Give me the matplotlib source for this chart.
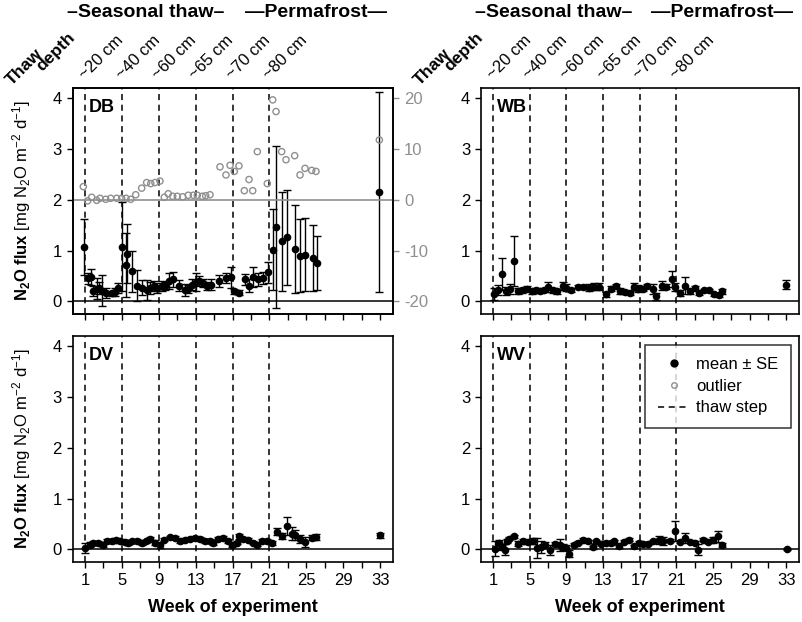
import matplotlib
matplotlib.use('Agg')
import matplotlib.pyplot as plt
from matplotlib.lines import Line2D

plt.rcParams['font.family'] = ['Liberation Sans', 'DejaVu Sans']
plt.rcParams['mathtext.fontset'] = 'custom'
plt.rcParams['mathtext.rm'] = 'Liberation Sans'
plt.rcParams['mathtext.bf'] = 'Liberation Sans:bold'
plt.rcParams['mathtext.it'] = 'Liberation Sans:italic'
plt.rcParams['axes.unicode_minus'] = False

# ---- data ----
thaw_weeks = [1, 5, 9, 13, 17, 21]
thaw_depths = ['~20 cm', '~40 cm', '~60 cm', '~65 cm', '~70 cm', '~80 cm']
week_labels = [1, 5, 9, 13, 17, 21, 25, 29, 33]

# DB
db_week = [0.92, 1.36, 1.62, 1.9, 2.27, 2.55, 2.88, 3.28, 3.9, 4.25, 4.6,
           5.05, 5.45, 5.59, 6.07, 6.6, 7.15, 7.76, 8.05, 8.48, 8.84, 9.32,
           9.68, 10.14, 10.51, 11.23, 11.85, 12.2, 12.57, 13.04, 13.4, 13.77,
           14.26, 14.7, 15.55, 16.29, 16.8, 17.16, 17.74, 18.35, 18.82, 19.25,
           19.8, 20.34, 20.8, 21.42, 21.72, 22.33, 22.88, 23.78, 24.32, 24.86,
           25.7, 26.13, 32.92]
db_mean = [1.07, 0.45, 0.48, 0.2, 0.25, 0.27, 0.21, 0.17, 0.16, 0.18, 0.27,
           1.08, 0.72, 0.94, 0.59, 0.31, 0.27, 0.22, 0.27, 0.30, 0.27, 0.30,
           0.30, 0.40, 0.43, 0.31, 0.22, 0.25, 0.33, 0.38, 0.40, 0.36,
           0.31, 0.33, 0.40, 0.46, 0.47, 0.2, 0.17, 0.43, 0.31, 0.48,
           0.43, 0.46, 0.57, 1.02, 1.46, 1.18, 1.26, 1.03, 0.9, 0.92,
           0.85, 0.76, 2.15]
db_se = [0.55, 0.1, 0.16, 0.1, 0.2, 0.12, 0.3, 0.1, 0.05, 0.08, 0.1,
         0.87, 0.63, 0.58, 0.4, 0.3, 0.15, 0.2, 0.12, 0.1, 0.1, 0.1,
         0.08, 0.15, 0.15, 0.1, 0.12, 0.08, 0.1, 0.18, 0.1, 0.08,
         0.08, 0.1, 0.12, 0.1, 0.2, 0.05, 0.05, 0.1, 0.12, 0.2,
         0.12, 0.12, 0.2, 0.8, 1.6, 0.97, 0.94, 0.86, 0.72, 0.72,
         0.65, 0.53, 1.97]
db_out_week = [0.82, 1.29, 1.73, 2.27, 2.63, 3.25, 3.79, 4.44, 4.98, 5.45, 5.96,
               6.5, 7.15, 7.69, 8.13, 8.59, 9.13, 9.6, 10.03, 10.51, 11.01, 11.6,
               12.2, 12.75, 13.18, 13.72, 14.09, 14.56, 15.64, 16.29, 16.73, 17.19,
               17.7, 18.28, 18.79, 19.19, 19.69, 20.77, 21.36, 21.72, 22.33, 22.8,
               23.74, 24.32, 24.86, 25.59, 26.05, 32.92]
db_out_val = [2.6, -0.2, 0.5, -0.1, 0.3, 0.1, 0.3, 0.3, 0.3, 0.3, 0.1,
              1.0, 2.3, 3.4, 3.2, 3.4, 3.7, 0.5, 1.2, 0.7, 0.7, 0.6,
              0.9, 0.9, 0.9, 0.7, 0.8, 1.0, 6.5, 4.9, 6.8, 5.6,
              6.7, 1.8, 4.0, 1.8, 9.5, 3.2, 19.7, 17.4, 9.5, 7.9,
              8.7, 4.9, 6.2, 5.8, 5.6, 11.8]

# WB
wb_week = [1.1, 1.5, 1.97, 2.4, 2.8, 3.23, 3.7, 4.2, 4.7, 5.2, 5.7, 6.1, 6.6,
           7.0, 7.5, 8.0, 8.62, 8.97, 9.51, 10.24, 10.77, 11.49, 12.02, 12.56,
           13.28, 13.82, 14.36, 14.83, 15.44, 15.98, 16.41, 16.77, 17.35, 17.84,
           18.42, 18.78, 19.39, 19.86, 20.47, 20.83, 21.37, 21.91, 22.44, 22.98,
           23.52, 24.06, 24.6, 25.14, 25.6, 26.03, 32.97]
wb_mean = [0.15, 0.22, 0.54, 0.2, 0.25, 0.79, 0.2, 0.22, 0.25, 0.2, 0.22, 0.2, 0.23,
           0.28, 0.22, 0.2, 0.3, 0.27, 0.22, 0.29, 0.29, 0.27, 0.29, 0.29,
           0.14, 0.25, 0.31, 0.2, 0.18, 0.16, 0.29, 0.25, 0.25, 0.31,
           0.25, 0.1, 0.31, 0.29, 0.44, 0.29, 0.17, 0.31, 0.2, 0.27,
           0.16, 0.22, 0.22, 0.14, 0.12, 0.2, 0.33]
wb_se = [0.12, 0.1, 0.31, 0.08, 0.1, 0.49, 0.06, 0.05, 0.05, 0.05, 0.05, 0.04, 0.04,
         0.1, 0.05, 0.05, 0.08, 0.07, 0.04, 0.03, 0.03, 0.07, 0.07, 0.07,
         0.05, 0.05, 0.04, 0.06, 0.04, 0.04, 0.07, 0.07, 0.05, 0.04,
         0.1, 0.07, 0.09, 0.05, 0.15, 0.08, 0.06, 0.17, 0.05, 0.04,
         0.04, 0.03, 0.03, 0.03, 0.03, 0.05, 0.08]

# DV
dv_week = [1.0, 1.5, 1.9, 2.4, 3.0, 3.35, 3.9, 4.35, 4.8, 5.35, 5.7, 6.15, 6.6,
           7.15, 7.6, 8.05, 8.6, 9.1, 9.55, 10.2, 10.75, 11.3, 11.85, 12.4,
           12.95, 13.45, 14.0, 14.55, 14.9, 15.45, 16.0, 16.55, 16.9, 17.45,
           17.75, 18.15, 18.7, 19.25, 19.7, 20.25, 20.7, 21.25, 21.8, 22.35,
           22.9, 23.4, 23.8, 24.3, 24.85, 25.6, 26.1, 33.0]
dv_mean = [0.02, 0.09, 0.13, 0.13, 0.09, 0.16, 0.17, 0.19, 0.17, 0.15, 0.13, 0.16, 0.17,
           0.13, 0.16, 0.21, 0.13, 0.08, 0.19, 0.24, 0.23, 0.16, 0.19, 0.21,
           0.23, 0.21, 0.17, 0.16, 0.13, 0.21, 0.23, 0.16, 0.08, 0.13,
           0.26, 0.21, 0.19, 0.13, 0.09, 0.17, 0.17, 0.13, 0.35, 0.26,
           0.46, 0.31, 0.28, 0.21, 0.15, 0.23, 0.24, 0.28]
dv_se = [0.1, 0.05, 0.04, 0.03, 0.05, 0.04, 0.04, 0.03, 0.04, 0.04, 0.05, 0.03, 0.03,
         0.04, 0.03, 0.03, 0.05, 0.05, 0.03, 0.03, 0.03, 0.04, 0.03, 0.03,
         0.03, 0.04, 0.04, 0.04, 0.04, 0.03, 0.03, 0.04, 0.04, 0.03,
         0.05, 0.03, 0.03, 0.03, 0.03, 0.04, 0.04, 0.04, 0.07, 0.06,
         0.18, 0.12, 0.1, 0.08, 0.1, 0.05, 0.06, 0.05]

# WV
wv_week = [1.18, 1.68, 1.97, 2.26, 2.51, 2.76, 3.23, 3.77, 4.31, 4.77, 5.39, 5.74,
           6.28, 6.71, 7.17, 7.71, 8.25, 8.62, 8.97, 9.33, 9.8, 10.23, 10.77,
           11.31, 11.85, 12.21, 12.75, 13.28, 13.82, 14.18, 14.72, 15.26, 15.8,
           16.33, 16.87, 17.41, 17.95, 18.49, 19.14, 19.57, 20.29, 20.83, 21.37,
           21.91, 22.44, 22.98, 23.34, 23.88, 24.42, 24.96, 25.5, 26.03, 33.04]
wv_mean = [0.01, 0.13, 0.04, -0.01, 0.17, 0.21, 0.26, 0.11, 0.16, 0.15, 0.16, 0.03,
           0.04, 0.08, -0.01, 0.11, 0.08, 0.04, 0.03, -0.09, 0.09, 0.13, 0.19,
           0.16, 0.04, 0.16, 0.11, 0.13, 0.12, 0.16, 0.06, 0.15, 0.19,
           0.06, 0.13, 0.11, 0.11, 0.16, 0.19, 0.17, 0.17, 0.36, 0.15,
           0.23, 0.15, 0.13, -0.01, 0.19, 0.15, 0.19, 0.26, 0.09, 0.01]
wv_se = [0.15, 0.05, 0.05, 0.11, 0.04, 0.03, 0.03, 0.05, 0.05, 0.04, 0.06, 0.2,
         0.12, 0.06, 0.1, 0.04, 0.12, 0.06, 0.05, 0.07, 0.03, 0.03, 0.03,
         0.03, 0.03, 0.03, 0.03, 0.03, 0.03, 0.03, 0.03, 0.03, 0.03,
         0.03, 0.03, 0.03, 0.03, 0.03, 0.08, 0.08, 0.03, 0.19, 0.03,
         0.1, 0.03, 0.03, 0.11, 0.03, 0.03, 0.06, 0.11, 0.04, 0.02]

panels = {
    'DB': (db_week, db_mean, db_se),
    'WB': (wb_week, wb_mean, wb_se),
    'DV': (dv_week, dv_mean, dv_se),
    'WV': (wv_week, wv_mean, wv_se),
}

grey = '#8f8f8f'
fig = plt.figure(figsize=(8.02, 6.22), dpi=100)
pos = {
    'DB': [0.091, 0.4952, 0.399, 0.363],
    'WB': [0.600, 0.4952, 0.3965, 0.363],
    'DV': [0.091, 0.0965, 0.399, 0.363],
    'WV': [0.600, 0.0965, 0.3965, 0.363],
}
ylab = r'$\mathbf{N_2O\ flux}$ [mg N$_2$O m$^{-2}$ d$^{-1}$]'

axes = {}
for name, (wk, mn, se) in panels.items():
    ax = fig.add_axes(pos[name])
    axes[name] = ax
    for t in thaw_weeks:
        ax.axvline(t, color='k', lw=1.1, ls=(0, (4, 3)), zorder=1)
    ax.axhline(0, color='k', lw=1.1, zorder=1)
    ax.errorbar(wk, mn, yerr=se, fmt='o', color='k', ms=4.5, capsize=3,
                elinewidth=1, capthick=1, zorder=3)
    ax.set_xlim(-0.3, 34.4)
    ax.set_ylim(-0.25, 4.2)
    ax.set_yticks([0, 1, 2, 3, 4])
    ax.set_xticks(range(1, 34, 2))
    bottom = name in ('DV', 'WV')
    ax.set_xticklabels([str(w) if w in week_labels else '' for w in range(1, 34, 2)] if bottom else [])
    ax.tick_params(direction='out', length=4, width=1, labelsize=12, pad=4)
    for s in ax.spines.values():
        s.set_linewidth(1.2)
    ax.text(0.05, 0.95, name, transform=ax.transAxes, fontsize=13, fontweight='bold',
            va='top', ha='left')
    if name in ('DB', 'DV'):
        ax.set_ylabel(ylab, fontsize=12, labelpad=14)
    if bottom:
        ax.set_xlabel('Week of experiment', fontsize=13, fontweight='bold', labelpad=8)
    else:
        tr = ax.get_xaxis_transform()
        ax.text(7.6, 1.335, '\u2013Seasonal thaw\u2013', transform=tr, ha='center',
                va='center', fontsize=14, fontweight='bold')
        ax.text(26.0, 1.335, '\u2014Permafrost\u2014', transform=tr, ha='center',
                va='center', fontsize=14, fontweight='bold')
        for t, d in zip(thaw_weeks, thaw_depths):
            ax.text(t + 0.2, 1.025, d, transform=tr, rotation=45, rotation_mode='anchor',
                    ha='left', va='bottom', fontsize=12)
        ax.text(-0.153, 1.095, 'Thaw', transform=ax.transAxes, rotation=45,
                rotation_mode='anchor', ha='center', va='center', fontsize=12.5,
                fontweight='bold')
        ax.text(-0.055, 1.159, 'depth', transform=ax.transAxes, rotation=45,
                rotation_mode='anchor', ha='center', va='center', fontsize=12.5,
                fontweight='bold')

# outliers on secondary axis of DB
ax2 = axes['DB'].twinx()
ax2.set_ylim((-0.25 - 2) * 10, (4.2 - 2) * 10)
ax2.axhline(0, color=grey, lw=1.2, zorder=1)
ax2.scatter(db_out_week, db_out_val, s=20, facecolors='none', edgecolors=grey,
            linewidths=1, zorder=2)
ax2.set_yticks([-20, -10, 0, 10, 20])
ax2.tick_params(axis='y', direction='out', length=4, width=1, labelsize=12,
                colors=grey, pad=4)
for s in ax2.spines.values():
    s.set_linewidth(1.2)

handles = [
    Line2D([], [], marker='o', color='k', ls='none', ms=5),
    Line2D([], [], marker='o', mfc='none', mec=grey, ls='none', ms=4),
    Line2D([], [], color='k', ls=(0, (4, 3)), lw=1.1),
]
leg = axes['WV'].legend(handles, ['mean \u00b1 SE', 'outlier', 'thaw step'],
                        loc='upper right', fontsize=12, frameon=True, fancybox=False,
                        borderaxespad=0.5, borderpad=0.75, handlelength=1.9,
                        handletextpad=0.4, labelspacing=0.4)
leg.get_frame().set_edgecolor('k')
leg.get_frame().set_linewidth(1.1)

fig.savefig('out.png', dpi=100)
